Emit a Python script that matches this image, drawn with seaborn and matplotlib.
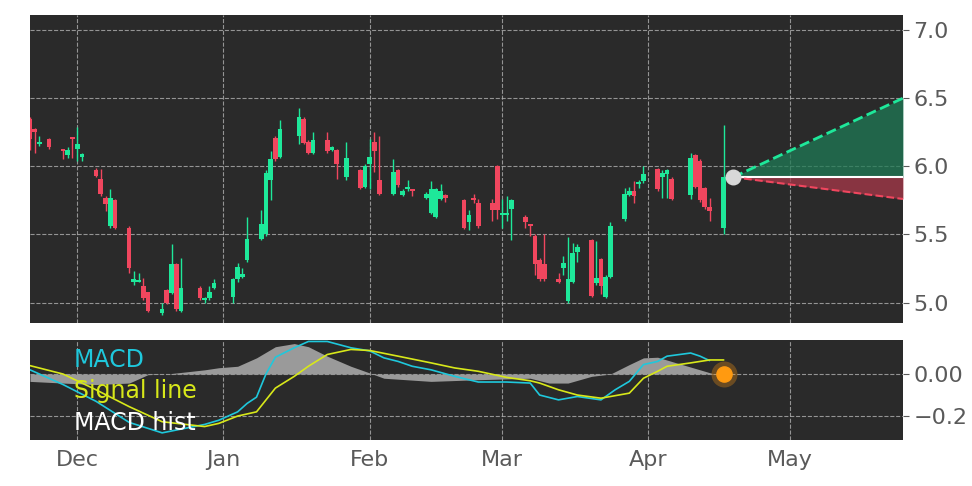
import numpy as np
import pandas as pd
import matplotlib
matplotlib.use('Agg')
import matplotlib.pyplot as plt
import matplotlib.dates as mdates
import seaborn as sns

# daily candles
dates = ['2022-11-21', '2022-11-22', '2022-11-23', '2022-11-25', '2022-11-28', '2022-11-29', '2022-11-30',
         '2022-12-01', '2022-12-02', '2022-12-05', '2022-12-06', '2022-12-07', '2022-12-08', '2022-12-09',
         '2022-12-12', '2022-12-13', '2022-12-14', '2022-12-15', '2022-12-16', '2022-12-19', '2022-12-20',
         '2022-12-21', '2022-12-22', '2022-12-23', '2022-12-27', '2022-12-28', '2022-12-29', '2022-12-30',
         '2023-01-03', '2023-01-04', '2023-01-05', '2023-01-06', '2023-01-09', '2023-01-10', '2023-01-11',
         '2023-01-12', '2023-01-13', '2023-01-17', '2023-01-18', '2023-01-19', '2023-01-20', '2023-01-23',
         '2023-01-24', '2023-01-25', '2023-01-27', '2023-01-30', '2023-01-31', '2023-02-01', '2023-02-02',
         '2023-02-03', '2023-02-06', '2023-02-07', '2023-02-08', '2023-02-09', '2023-02-10', '2023-02-13',
         '2023-02-14', '2023-02-15', '2023-02-16', '2023-02-17', '2023-02-21', '2023-02-22', '2023-02-23',
         '2023-02-24', '2023-02-27', '2023-02-28', '2023-03-01', '2023-03-02', '2023-03-03', '2023-03-06',
         '2023-03-07', '2023-03-08', '2023-03-09', '2023-03-10', '2023-03-13', '2023-03-14', '2023-03-15',
         '2023-03-16', '2023-03-17', '2023-03-20', '2023-03-21', '2023-03-22', '2023-03-23', '2023-03-24',
         '2023-03-27', '2023-03-28', '2023-03-29', '2023-03-30', '2023-03-31', '2023-04-03', '2023-04-04',
         '2023-04-05', '2023-04-06', '2023-04-10', '2023-04-11', '2023-04-12', '2023-04-13', '2023-04-14',
         '2023-04-17']
opens = [6.35, 6.27, 6.16, 6.20, 6.11, 6.08, 6.20, 6.13, 6.07, 5.97, 5.91, 5.77, 5.56, 5.75,
         5.55, 5.15, 5.15, 5.12, 5.08, 4.92, 5.09, 5.07, 5.28, 4.94, 5.11, 5.02, 5.03, 5.11,
         5.04, 5.17, 5.19, 5.31, 5.47, 5.50, 5.90, 6.21, 6.07, 6.22, 6.35, 6.18, 6.10, 6.19,
         6.12, 6.12, 5.92, 5.97, 5.85, 6.02, 6.18, 5.90, 5.80, 5.97, 5.79, 5.83, 5.82, 5.77,
         5.66, 5.63, 5.76, 5.79, 5.75, 5.59, 5.75, 5.73, 5.73, 6.00, 5.64, 5.64, 5.69, 5.63,
         5.56, 5.49, 5.31, 5.28, 5.17, 5.25, 5.01, 5.15, 5.37, 5.46, 5.14, 5.32, 5.04, 5.19,
         5.61, 5.79, 5.82, 5.87, 5.89, 5.98, 5.92, 5.94, 5.91, 5.79, 6.08, 6.04, 5.84, 5.70,
         5.55]
closes = [6.20, 6.25, 6.18, 6.14, 6.10, 6.12, 6.19, 6.16, 6.09, 5.93, 5.80, 5.72, 5.77, 5.55,
          5.25, 5.17, 5.16, 5.03, 4.94, 4.95, 5.00, 5.28, 4.95, 5.11, 5.03, 5.03, 5.08, 5.14,
          5.17, 5.26, 5.21, 5.47, 5.58, 5.95, 6.05, 6.05, 6.27, 6.36, 6.17, 6.10, 6.19, 6.11,
          6.14, 6.02, 6.06, 5.84, 6.00, 6.07, 6.11, 5.80, 5.96, 5.86, 5.82, 5.84, 5.81, 5.80,
          5.83, 5.83, 5.82, 5.77, 5.55, 5.64, 5.74, 5.56, 5.68, 5.68, 5.66, 5.66, 5.75, 5.59,
          5.55, 5.28, 5.17, 5.17, 5.15, 5.29, 5.17, 5.36, 5.41, 5.05, 5.18, 5.12, 5.19, 5.56,
          5.80, 5.82, 5.78, 5.88, 5.94, 5.83, 5.95, 5.97, 5.76, 6.06, 5.85, 5.75, 5.70, 5.67,
          5.92]
highs = [6.36, 6.28, 6.22, 6.21, 6.12, 6.14, 6.21, 6.29, 6.10, 5.99, 5.98, 5.78, 5.83, 5.76,
         5.56, 5.23, 5.22, 5.18, 5.08, 5.00, 5.10, 5.43, 5.29, 5.33, 5.12, 5.04, 5.12, 5.17,
         5.18, 5.29, 5.25, 5.63, 5.68, 5.97, 6.11, 6.22, 6.34, 6.43, 6.36, 6.19, 6.25, 6.25,
         6.15, 6.13, 6.18, 5.98, 6.02, 6.20, 6.25, 6.22, 6.05, 5.98, 5.83, 5.90, 5.83, 5.81,
         5.89, 5.84, 5.87, 5.80, 5.76, 5.68, 5.80, 5.76, 5.76, 6.01, 5.76, 5.78, 5.76, 5.64,
         5.57, 5.50, 5.33, 5.50, 5.22, 5.34, 5.48, 5.44, 5.43, 5.47, 5.45, 5.33, 5.20, 5.59,
         5.84, 5.85, 5.89, 5.90, 6.00, 5.99, 5.97, 5.98, 5.92, 6.10, 6.09, 6.05, 5.85, 5.77,
         6.30]
lows = [6.12, 6.10, 6.15, 6.13, 6.05, 6.06, 6.06, 6.04, 6.04, 5.92, 5.78, 5.67, 5.55, 5.54,
        5.22, 5.13, 5.15, 5.02, 4.93, 4.91, 4.99, 5.06, 4.94, 4.93, 5.02, 5.00, 5.02, 5.10,
        5.00, 5.15, 5.18, 5.30, 5.46, 5.49, 5.75, 6.04, 6.06, 6.16, 6.16, 6.09, 6.09, 6.10,
        6.11, 5.91, 5.90, 5.83, 5.84, 5.83, 5.96, 5.79, 5.79, 5.85, 5.78, 5.82, 5.78, 5.76,
        5.65, 5.62, 5.75, 5.74, 5.54, 5.53, 5.73, 5.55, 5.60, 5.61, 5.55, 5.60, 5.46, 5.55,
        5.49, 5.20, 5.16, 5.16, 5.14, 5.20, 5.00, 5.14, 5.30, 5.04, 5.13, 5.06, 5.03, 5.18,
        5.60, 5.78, 5.73, 5.84, 5.88, 5.82, 5.77, 5.77, 5.75, 5.76, 5.84, 5.74, 5.69, 5.60,
        5.50]

# projection cone
proj_dates = ['2023-04-19', '2023-05-25']
proj_base = [5.92, 5.92]
proj_up = [5.92, 6.50]
proj_down = [5.92, 5.76]

# MACD panel
macd_dates = ['2022-11-21', '2022-11-28', '2022-12-05', '2022-12-12', '2022-12-19', '2022-12-28', '2022-12-31',
              '2023-01-04', '2023-01-06', '2023-01-08', '2023-01-10', '2023-01-12', '2023-01-16', '2023-01-19',
              '2023-01-23', '2023-01-28', '2023-02-01', '2023-02-04', '2023-02-07', '2023-02-10', '2023-02-14',
              '2023-02-19', '2023-02-24', '2023-03-02', '2023-03-07', '2023-03-09', '2023-03-13', '2023-03-17',
              '2023-03-22', '2023-03-25', '2023-03-28', '2023-03-31', '2023-04-03', '2023-04-05', '2023-04-10',
              '2023-04-12', '2023-04-14']
macd_vals = [0.02, -0.05, -0.13, -0.23, -0.28, -0.24, -0.22, -0.18, -0.14, -0.11, 0.0, 0.08, 0.125, 0.155,
             0.155, 0.125, 0.11, 0.077, 0.06, 0.037, 0.02, -0.011, -0.038, -0.038, -0.043, -0.10, -0.123,
             -0.107, -0.123, -0.075, -0.035, 0.045, 0.06, 0.085, 0.10, 0.085, 0.064]
signal_dates = ['2022-11-21', '2022-11-28', '2022-12-05', '2022-12-12', '2022-12-19', '2022-12-28', '2022-12-31',
                '2023-01-04', '2023-01-08', '2023-01-12', '2023-01-16', '2023-01-19', '2023-01-23', '2023-01-28',
                '2023-02-01', '2023-02-07', '2023-02-14', '2023-02-19', '2023-02-24', '2023-03-02', '2023-03-07',
                '2023-03-09', '2023-03-13', '2023-03-17', '2023-03-22', '2023-03-28', '2023-03-31', '2023-04-03',
                '2023-04-05', '2023-04-10', '2023-04-14', '2023-04-17']
signal_vals = [0.04, 0.0, -0.075, -0.155, -0.227, -0.25, -0.235, -0.20, -0.18, -0.067, -0.011, 0.037, 0.093,
               0.117, 0.112, 0.085, 0.053, 0.029, 0.013, -0.016, -0.032, -0.043, -0.075, -0.10, -0.115, -0.091,
               -0.02, 0.013, 0.037, 0.053, 0.067, 0.067]
hist_dates = ['2022-11-21', '2022-11-28', '2022-12-05', '2022-12-12', '2022-12-16', '2022-12-20', '2022-12-28',
              '2022-12-31', '2023-01-04', '2023-01-08', '2023-01-12', '2023-01-16', '2023-01-19', '2023-01-23',
              '2023-01-28', '2023-02-01', '2023-02-04', '2023-02-14', '2023-02-24', '2023-03-07', '2023-03-11',
              '2023-03-15', '2023-03-20', '2023-03-24', '2023-03-28', '2023-03-31', '2023-04-03', '2023-04-07',
              '2023-04-12', '2023-04-15']
hist_vals = [-0.035, -0.043, -0.05, -0.043, -0.003, 0.0, 0.02, 0.03, 0.037, 0.077, 0.13, 0.145, 0.13, 0.085,
             0.037, 0.005, -0.02, -0.035, -0.027, -0.02, -0.043, -0.043, -0.011, 0.0, 0.045, 0.077, 0.08,
             0.053, 0.02, 0.0]

BG = '#2a2a2a'
GREEN = '#1ee89a'
RED = '#f0465e'
TXT = '#5a5a5a'

sns.set_style('dark', {'axes.facecolor': BG, 'figure.facecolor': 'white'})
plt.rcParams['font.family'] = ['DejaVu Sans']

df = pd.DataFrame({'date': pd.to_datetime(dates), 'open': opens, 'close': closes, 'high': highs, 'low': lows})
df['up'] = df['close'] >= df['open']
body = df['close'] - df['open']
body = body.where(body.abs() > 0.015, 0.015)  # doji candles still get a sliver

fig = plt.figure(figsize=(9.72, 4.86), dpi=100)
ax = fig.add_axes([30 / 972, 1 - 323 / 486, 873 / 972, 308 / 486])
ax2 = fig.add_axes([30 / 972, 1 - 440 / 486, 873 / 972, 100 / 486], sharex=ax)

grid_kw = dict(color='#b0b0b0', linestyle='--', linewidth=0.8, alpha=0.8)
for a in (ax, ax2):
    a.set_facecolor(BG)
    a.grid(True, **grid_kw)
    a.set_axisbelow(True)
    for s in a.spines.values():
        s.set_visible(False)
    a.yaxis.tick_right()
    a.tick_params(axis='both', colors=TXT, labelsize=16, length=4)

# candles
cols = np.where(df['up'], GREEN, RED)
ax.vlines(df['date'], df['low'], df['high'], colors=cols, linewidth=1)
ax.bar(df['date'], body, bottom=df['open'], width=1.0, color=cols, edgecolor='none', linewidth=0)

# projection
pdt = pd.to_datetime(proj_dates)
ax.fill_between(pdt, proj_base, proj_up, color='#1f7a55', alpha=0.75, linewidth=0)
ax.fill_between(pdt, proj_base, proj_down, color='#a8384a', alpha=0.75, linewidth=0)
ax.plot(pdt, proj_base, color='white', linewidth=1.5)
ax.plot(pdt, proj_up, color=GREEN, linestyle='--', linewidth=2)
ax.plot(pdt, proj_down, color=RED, linestyle='--', linewidth=1.5)
ax.scatter(pdt[:1], proj_base[:1], s=110, color='#d8d8d8', zorder=5)

ax.set_ylim(4.85, 7.11)
ax.set_yticks([5.0, 5.5, 6.0, 6.5, 7.0])
ax.set_xlim(pd.Timestamp('2022-11-21'), pd.Timestamp('2023-05-25'))
ax.tick_params(axis='x', labelbottom=False)

# MACD panel
hd = pd.to_datetime(hist_dates)
ax2.fill_between(hd, 0, hist_vals, color='#9a9a9a', linewidth=0)
sns.lineplot(x=pd.to_datetime(macd_dates), y=macd_vals, ax=ax2, color='#1fc8dc', linewidth=1.2)
sns.lineplot(x=pd.to_datetime(signal_dates), y=signal_vals, ax=ax2, color='#d8e81a', linewidth=1.2)
ax2.scatter([pd.Timestamp('2023-04-17')], [0.0], s=350, color='#ff9a10', alpha=0.3, linewidth=0, zorder=5)
ax2.scatter([pd.Timestamp('2023-04-17')], [0.0], s=120, color='#ff9a10', zorder=6)
ax2.set_ylim(-0.314, 0.162)
ax2.set_yticks([0.0, -0.2])
ax2.set_yticklabels(['0.00', '\u22120.2'])
ax2.set_xlabel('')
ax2.set_ylabel('')
ax2.text(0.05, 0.80, 'MACD', color='#1fc8dc', fontsize=17, transform=ax2.transAxes, va='center')
ax2.text(0.05, 0.49, 'Signal line', color='#d8e81a', fontsize=17, transform=ax2.transAxes, va='center')
ax2.text(0.05, 0.17, 'MACD hist', color='white', fontsize=17, transform=ax2.transAxes, va='center')

ax2.xaxis.set_major_locator(mdates.MonthLocator())
ax2.xaxis.set_major_formatter(mdates.DateFormatter('%b'))

fig.savefig('out.png', dpi=100)
